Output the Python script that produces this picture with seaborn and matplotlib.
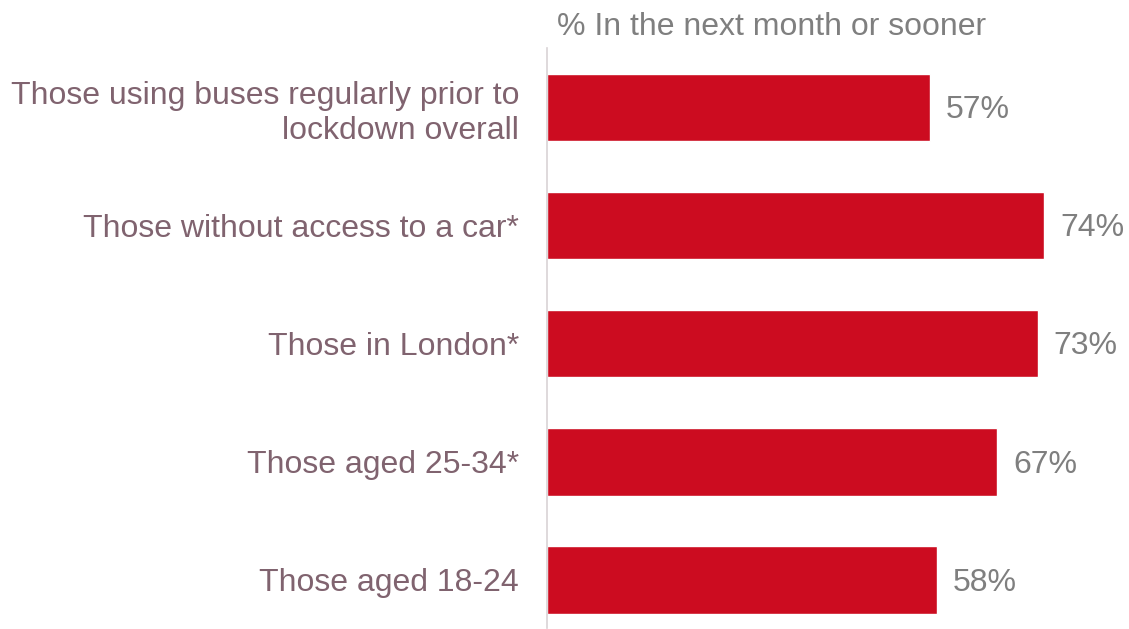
import matplotlib
matplotlib.use("Agg")
import matplotlib.pyplot as plt
import seaborn as sns
import pandas as pd

# data
categories = [
    "Those using buses regularly prior to\nlockdown overall",
    "Those without access to a car*",
    "Those in London*",
    "Those aged 25-34*",
    "Those aged 18-24",
]
values = [57, 74, 73, 67, 58]
title = "% In the next month or sooner"

BAR_RED = "#cc0c20"
LABEL_MAUVE = "#80636f"
VALUE_GREY = "#7f7f7f"

sns.set_style("white")
plt.rcParams["font.family"] = ["Liberation Sans", "DejaVu Sans"]

df = pd.DataFrame({"group": categories, "pct": values})

fig = plt.figure(figsize=(11.29, 6.29), dpi=100)
ax = fig.add_axes([547 / 1129, 1 / 629, 578 / 1129, 580 / 629])

sns.barplot(data=df, y="group", x="pct", orient="h", color=BAR_RED,
            saturation=1, width=0.575, ax=ax)

for i, v in enumerate(values):
    ax.text(v + 2.4, i + 0.025, f"{v}%", va="center", ha="left",
            fontsize=23, color=VALUE_GREY)

ax.set_xlim(0, 86)
ax.set_ylim(4.41, -0.504)
ax.set_xlabel("")
ax.set_ylabel("")
ax.set_xticks([])
ax.tick_params(axis="y", length=0, pad=20)
for lab in ax.get_yticklabels():
    lab.set_fontsize(23)
    lab.set_color(LABEL_MAUVE)
    lab.set_linespacing(1.22)

for side in ["top", "right", "bottom"]:
    ax.spines[side].set_visible(False)
ax.spines["left"].set_color("#d9d3d6")
ax.spines["left"].set_linewidth(1.2)

fig.text(557 / 1129, 1 - 35 / 629, title, ha="left", va="baseline",
         fontsize=23, color=VALUE_GREY)

fig.savefig("out.png", dpi=100)
